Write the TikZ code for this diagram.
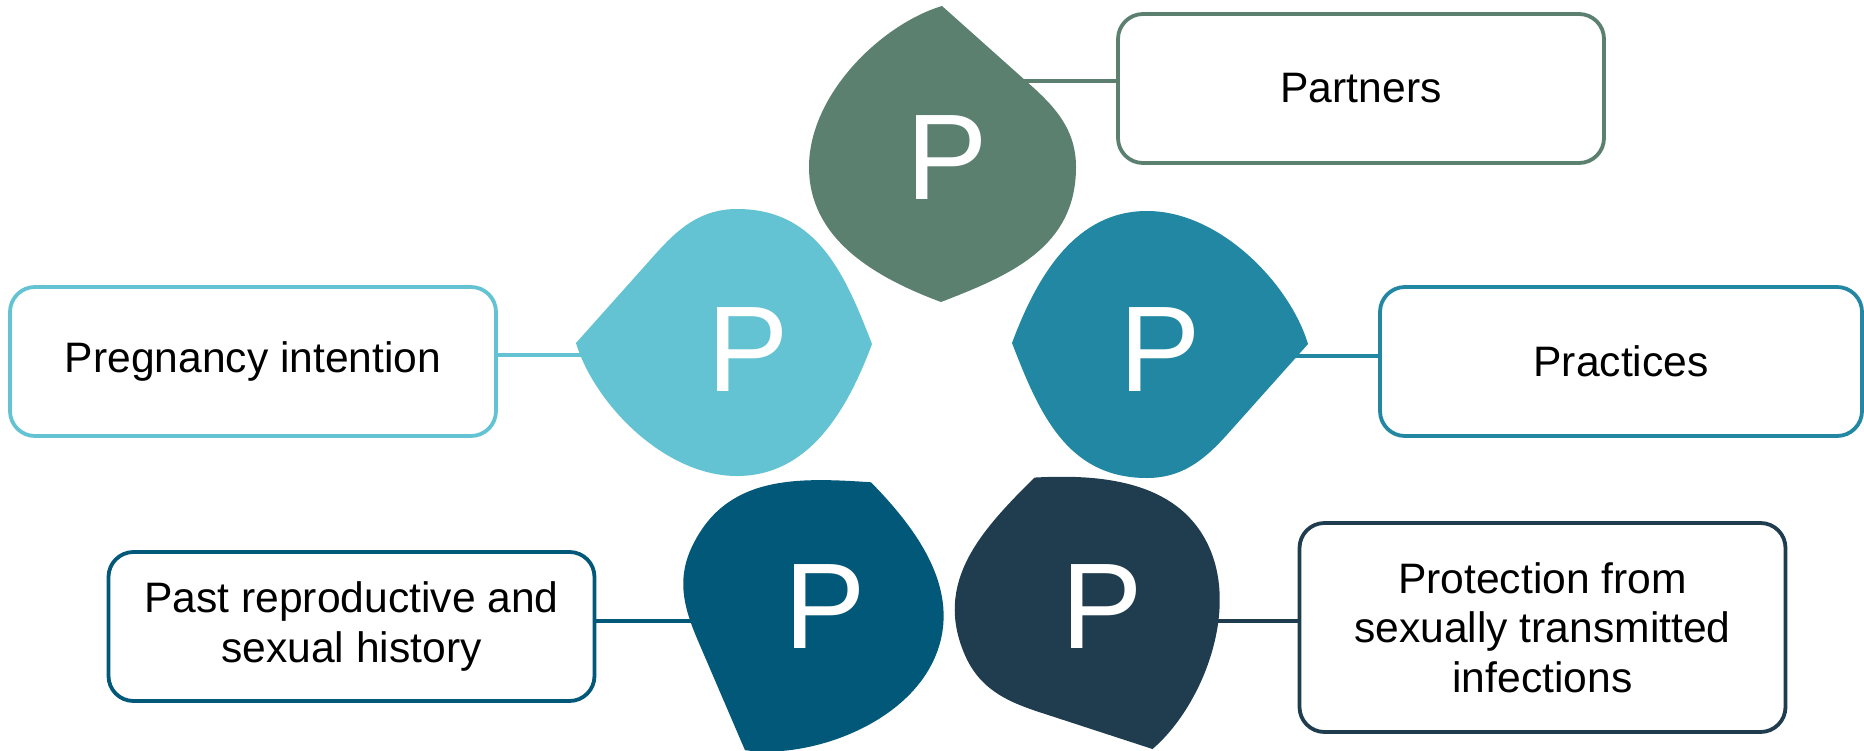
\documentclass[tikz,border=0pt]{standalone}
\usepackage{fontspec}
\setmainfont{Liberation Sans}
\usetikzlibrary{positioning,calc}

\definecolor{pgreen}{HTML}{5B806F}
\definecolor{plight}{HTML}{64C3D3}
\definecolor{pteal}{HTML}{2187A2}
\definecolor{pblue}{HTML}{025878}
\definecolor{pnavy}{HTML}{1F3D4E}

\begin{document}
\begin{tikzpicture}[x=0.5pt,y=-0.5pt]
    \tikzstyle{every node}=[inner sep=0]
    \tikzstyle{infobox}=[draw,fill=white,rounded corners=12.5pt,line width=1.9pt,minimum width=243pt,minimum height=74.5pt,align=center,font=\fontsize{21.3}{24.8}\selectfont]
    \tikzstyle{letter}=[text=white,font=\fontsize{61}{61}\selectfont]
    \tikzstyle{conn}=[line width=1.9pt]
    \useasboundingbox (0,0) rectangle (1864,750);
    {
        % boxes
        \node[infobox,draw=pgreen] (partners) at (1361,88.5) {Partners};
        \node[infobox,draw=plight] (pregnancy) at (253,361.5) {Pregnancy intention};
        \node[infobox,draw=pteal,minimum width=241pt] (practices) at (1621,361.5) {Practices};
        \node[infobox,draw=pblue] (past) at (351.5,626.5) {Past reproductive and\\sexual history};
        \node[infobox,draw=pnavy,minimum height=104.5pt] (protection) at (1542.5,627.5) {Protection from\\sexually transmitted\\infections};

        % where the lines leave the petals
        \coordinate (cPartners) at (1020,81);
        \coordinate (cPregnancy) at (592,355);
        \coordinate (cPractices) at (1285,356);
        \coordinate (cPast) at (700,621);
        \coordinate (cProtection) at (1208,621);

        \draw[conn,pgreen] (cPartners) -- (cPartners -| partners.west);
        \draw[conn,plight] (cPregnancy) -- (cPregnancy -| pregnancy.east);
        \draw[conn,pteal] (cPractices) -- (cPractices -| practices.west);
        \draw[conn,pblue] (cPast) -- (cPast -| past.east);
        \draw[conn,pnavy] (cProtection) -- (cProtection -| protection.west);

        % petals: one shape, turned round its middle
        \foreach \cx/\cy/\ang/\col in {942/154/0/pgreen, 724/343/90/plight, 1160/344/-90/pteal,
                                       807.5/616/155/pblue, 1093/613.5/-156.3/pnavy}
            \fill[\col,shift={(\cx,\cy)},rotate=\ang]
                (0,-148) .. controls (-60,-130) and (-133,-60) .. (-133,13)
                .. controls (-133,83) and (-71,122) .. (-1,148)
                .. controls (69,121) and (134,93) .. (134,13)
                .. controls (134,-27) and (110,-50) .. (84,-73) -- cycle;

        % letters
        \node[letter] (pPartners) at (947,158) {P};
        \node[letter] (pPregnancy) at (748,350) {P};
        \node[letter] (pPractices) at (1160,350) {P};
        \node[letter] (pPast) at (825,607) {P};
        \node[letter] (pProtection) at (1102,607) {P};
    }
\end{tikzpicture}
\end{document}
